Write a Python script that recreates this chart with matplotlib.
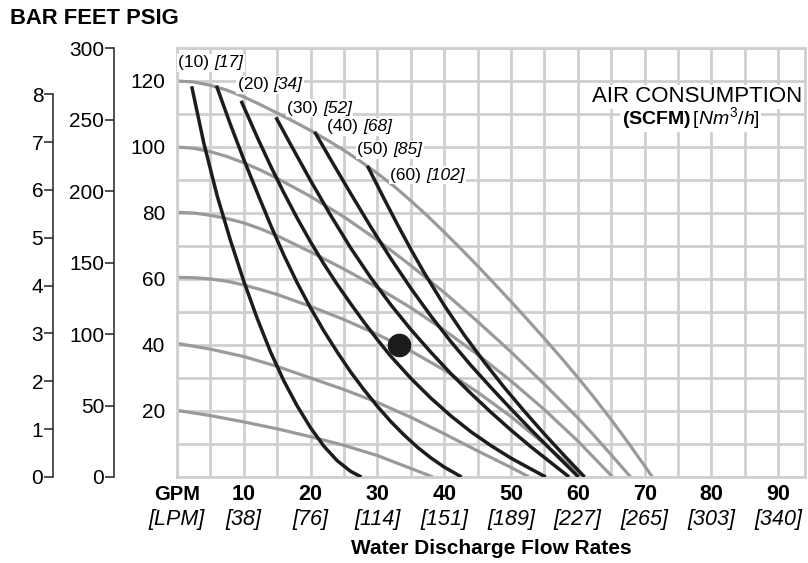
import numpy as np
import matplotlib
matplotlib.use("Agg")
import matplotlib.pyplot as plt

base = "Liberation Sans"
plt.rcParams['font.family'] = [base, 'DejaVu Sans']
plt.rcParams['mathtext.fontset'] = 'custom'
plt.rcParams['mathtext.rm'] = base
plt.rcParams['mathtext.it'] = base + ':italic'
plt.rcParams['mathtext.bf'] = base + ':bold'

# Inlet air pressure curves (psig), GPM vs PSIG
g120_x = [0, 2.5, 5, 7.5, 10, 12.5, 15, 17.5, 20, 22.5, 25, 27.5, 30, 32.5, 35, 37.5, 40, 42.5,
          45, 47.5, 50, 52.5, 55, 57.5, 60, 62.5, 65, 67.5, 70, 71.15]
g120_y = [120, 119.7, 118.7, 117.2, 115.2, 112.8, 110.3, 107.7, 105, 102.1, 99, 95.6, 92, 88.1,
          83.7, 79.1, 74.2, 69.15, 63.95, 58.6, 53.15, 47.6, 41.95, 36.15, 30.15, 23.9, 17.35,
          10.5, 3.35, 0]
g100_x = [0, 2.5, 5, 7.5, 10, 12.5, 15, 20, 25, 30, 35, 40, 45, 50, 55, 60, 62.5, 65, 67.9]
g100_y = [100, 99.6, 98.6, 97.1, 95.2, 93, 90.5, 85, 78.8, 71.8, 64.1, 55.9, 47.1, 37.9, 28.1,
          17.9, 12.4, 6.7, 0]
g80_x = [0, 2.5, 5, 7.5, 10, 12.5, 15, 20, 25, 30, 35, 40, 45, 50, 55, 60, 65.2]
g80_y = [80.2, 80, 79.3, 78.3, 77, 75.2, 73.1, 68.2, 63, 57.4, 51.3, 44.5, 37.1, 29.1, 20.4, 10.9, 0]
g60_x = [0, 2.5, 5, 7.5, 10, 12.5, 15, 20, 25, 30, 35, 40, 45, 50, 55, 60, 60.8]
g60_y = [60.5, 60.4, 60, 59.3, 58.2, 56.8, 55.3, 51.7, 47.7, 43.2, 38.2, 32.4, 25.7, 18.3, 10, 1.4, 0]
g40_x = [0, 5, 10, 15, 20, 25, 30, 35, 40, 45, 50, 52.7]
g40_y = [40.5, 38.75, 36.5, 33.5, 30, 26.5, 22.6, 18.1, 13.1, 7.9, 2.9, 0]
g20_x = [0, 5, 10, 15, 20, 25, 30, 35, 38.3]
g20_y = [20.2, 18.6, 16.7, 14.6, 12.2, 9.6, 6.5, 2.6, 0]

# Air consumption curves (SCFM)
b10_x = [2.2, 4, 6, 8, 10, 12, 14, 16, 18, 20, 22, 24, 26, 27.6]
b10_y = [118.4, 101.3, 85.3, 71.7, 59.3, 48.1, 37.9, 29.1, 21.5, 14.9, 9.3, 4.9, 1.7, 0]
b20_x = [5.9, 8, 10, 12, 14, 16, 18, 20, 22, 24, 26, 28, 30, 32, 34, 36, 38, 40, 42, 42.6]
b20_y = [118.6, 106.8, 96.2, 86.2, 76.4, 67.2, 58.8, 51.2, 44.2, 37.8, 31.8, 26.4, 21.4, 16.8,
         12.7, 9, 5.8, 3, 0.7, 0]
b30_x = [9.6, 12, 14, 16, 18, 20, 22, 24, 26, 28, 30, 32, 35, 38, 41, 44, 47, 50, 53, 55.2]
b30_y = [114, 103, 94.3, 86.1, 78.4, 71.2, 64.5, 58.3, 52.5, 46.9, 41.6, 36.6, 29.9, 23.9, 18.5,
         13.7, 9.5, 5.7, 2.4, 0]
b40_x = [14.8, 17, 20, 23, 26, 29, 32, 35, 38, 41, 44, 47, 50, 53, 56, 58.7]
b40_y = [109, 100.8, 89.8, 79.3, 69.4, 60.4, 52.2, 44.7, 37.8, 31.3, 25.3, 19.6, 14.2, 9.1, 4.3, 0]
b50_x = [20.6, 23, 26, 29, 32, 35, 38, 41, 44, 47, 50, 53, 56, 59, 60.1]
b50_y = [104.6, 96.2, 85.9, 75.8, 66.2, 57.2, 48.8, 41, 33.8, 27.1, 20.6, 14.3, 8.2, 2.2, 0]
b60_x = [28.5, 31, 33, 35, 37, 40, 43, 46, 49, 52, 55, 58, 61]
b60_y = [94.3, 84.3, 76.5, 69, 61.9, 52, 43, 34.8, 27.1, 19.9, 13, 6.4, 0]

scfm = [10, 20, 30, 40, 50, 60]
nm3h = [17, 34, 52, 68, 85, 102]
label_x = [0.2, 9.1, 16.5, 22.5, 27.0, 31.9]
label_y = [125.5, 118.8, 111.8, 106.1, 99.1, 91.5]

gpm_ticks = [10, 20, 30, 40, 50, 60, 70, 80, 90]
lpm_ticks = [38, 76, 114, 151, 189, 227, 265, 303, 340]
psig_ticks = [20, 40, 60, 80, 100, 120]
feet_ticks = [0, 50, 100, 150, 200, 250, 300]
bar_ticks = [0, 1, 2, 3, 4, 5, 6, 7, 8]

point_gpm, point_psig = 33.3, 40

grid_c = '#cfcfcf'
gray_c = '#9a9a9a'
black_c = '#1c1c1c'

W, H = 808, 563
fig = plt.figure(figsize=(W/100, H/100), dpi=100)
L, B, R, T = 177, 477, 805, 48
ax = fig.add_axes([L/W, 1-B/H, (R-L)/W, (B-T)/H])
ax.set_xlim(0, 94)
ax.set_ylim(0, 130)

# grid
ax.set_xticks(np.arange(0, 91, 5))
ax.set_yticks(np.arange(0, 131, 10))
ax.set_xticklabels([])
ax.set_yticklabels([str(v) if v in psig_ticks else '' for v in np.arange(0, 131, 10)], fontsize=15)
ax.tick_params(length=0, pad=8.5)
ax.grid(color=grid_c, lw=2)
ax.set_axisbelow(True)
for s in ax.spines.values():
    s.set_color(grid_c)
    s.set_linewidth(2)

for gx, gy in [(g120_x, g120_y), (g100_x, g100_y), (g80_x, g80_y),
               (g60_x, g60_y), (g40_x, g40_y), (g20_x, g20_y)]:
    ax.plot(gx, gy, color=gray_c, lw=2.3, zorder=2, solid_capstyle='butt', solid_joinstyle='round')

for bx, by in [(b10_x, b10_y), (b20_x, b20_y), (b30_x, b30_y),
               (b40_x, b40_y), (b50_x, b50_y), (b60_x, b60_y)]:
    ax.plot(bx, by, color=black_c, lw=2.5, zorder=3, solid_capstyle='butt', solid_joinstyle='round')

ax.plot([point_gpm], [point_psig], 'o', ms=16, color=black_c, zorder=4)

# curve labels: (scfm) regular, [Nm3/h] italic
for s, n, lx, ly in zip(scfm, nm3h, label_x, label_y):
    t = ax.text(lx, ly, f"({s}) ", fontsize=12.5, ha='left', va='center',
                zorder=5, bbox=dict(fc='white', ec='none', pad=1))
    ax.annotate(f"[{n}]", xy=(1, 0.5), xycoords=t, fontsize=12.5, style='italic',
                ha='left', va='center', zorder=5, bbox=dict(fc='white', ec='none', pad=1))

ax.text(0.828, 0.886, "AIR CONSUMPTION", transform=ax.transAxes, fontsize=16,
        ha='center', va='center', zorder=5, bbox=dict(fc='white', ec='none', pad=1))
ax.text(0.818, 0.837, r"$\mathbf{(SCFM)}\,\mathit{[Nm^3/h]}$", transform=ax.transAxes,
        fontsize=14, ha='center', va='center', zorder=5,
        bbox=dict(fc='white', ec='none', pad=1))

# x labels, two rows
tr = ax.get_xaxis_transform()
ax.text(0, -0.04, "GPM", transform=tr, ha='center', va='center', fontsize=14.5,
        fontweight='bold')
ax.text(0, -0.1, "[LPM]", transform=tr, ha='center', va='center', fontsize=15.5,
        style='italic')
for g, l in zip(gpm_ticks, lpm_ticks):
    ax.text(g, -0.04, str(g), transform=tr, ha='center', va='center', fontsize=15.5,
            fontweight='bold')
    ax.text(g, -0.1, f"[{l}]", transform=tr, ha='center', va='center', fontsize=15.5,
            style='italic')
ax.text(0.5, -0.166, "Water Discharge Flow Rates", transform=ax.transAxes,
        ha='center', va='center', fontsize=15, fontweight='bold')

# feet and bar axes on the left
def side_axis(xpix, top, ticks, bound):
    a = fig.add_axes([xpix/W, 1-B/H, 0.0001, (B-T)/H])
    a.set_ylim(0, top)
    a.patch.set_visible(False)
    for k in ['top', 'right', 'bottom']:
        a.spines[k].set_visible(False)
    a.spines['left'].set_bounds(0, bound)
    a.spines['left'].set_linewidth(1.1)
    a.spines['left'].set_color('#222222')
    a.set_xticks([])
    a.set_yticks(ticks)
    a.tick_params(axis='y', length=6.5, width=1.1, color='#222222', pad=0.5, labelsize=15)
    return a

side_axis(114, 130*2.31, feet_ticks, 300)
side_axis(53, 130/14.5, bar_ticks, 8)

fig.text(10/W, 1-18/H, "BAR FEET PSIG", fontsize=15.8, fontweight='bold', ha='left', va='center')

fig.savefig("out.png", dpi=100)
